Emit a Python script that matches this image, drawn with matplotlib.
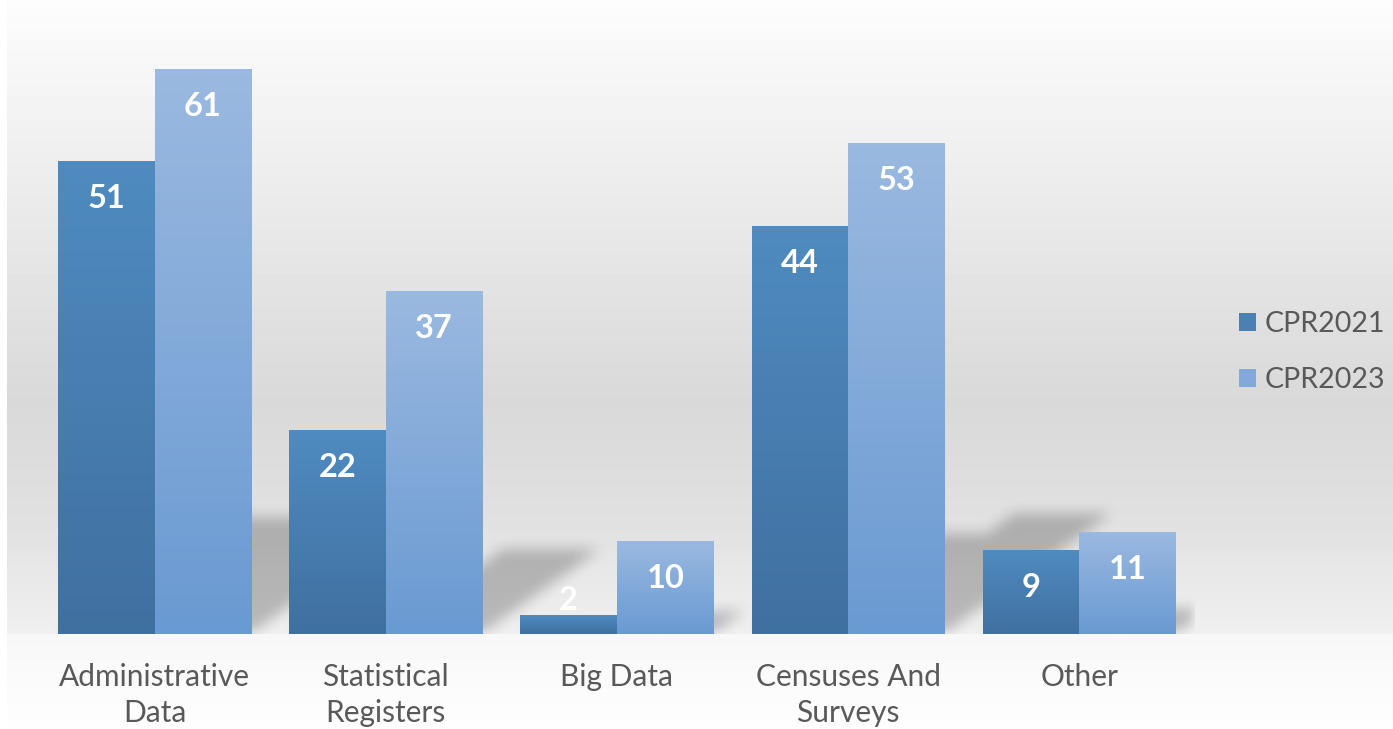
import numpy as np
import matplotlib
matplotlib.use('Agg')
import matplotlib.pyplot as plt
from matplotlib.colors import LinearSegmentedColormap

# data
categories = ['Administrative\nData', 'Statistical\nRegisters', 'Big Data',
              'Censuses And\nSurveys', 'Other']
cpr2021 = [51, 22, 2, 44, 9]
cpr2023 = [61, 37, 10, 53, 11]
series_names = ['CPR2021', 'CPR2023']

dark_top, dark_bot = '#4F8BC0', '#4070A0'
light_top, light_bot = '#9AB9E0', '#6A9AD2'
text_gray = '#595959'

W, H, DPI = 1393, 729, 100
fig = plt.figure(figsize=(W / DPI, H / DPI), dpi=DPI)

# background: soft grey gradient wall, light floor below the baseline
bg = fig.add_axes([0, 0, 1, 1], zorder=-5)
rows = np.arange(H)
shade = np.interp(rows, [0, 30, 400, 520, 633, 634, 729],
                  [0.99, 0.98, 0.85, 0.88, 0.94, 0.97, 0.995])
img = np.repeat(shade[:, None], W, axis=1)
img[:, :7] = 1.0
bg.imshow(img, cmap='gray', vmin=0, vmax=1, aspect='auto',
          extent=[0, W, H, 0], interpolation='bilinear')
bg.axis('off')

# main axes, placed so baseline / bar scale match the reference
px_per_unit = 9.26
ymax = 66
ax_left, ax_right, base_px = 39, 1195, 634
ax = fig.add_axes([ax_left / W, (H - base_px) / H, (ax_right - ax_left) / W,
                   ymax * px_per_unit / H])
ax.patch.set_alpha(0)

x = np.arange(len(categories))
bw = 0.418
b1 = ax.bar(x - bw / 2, cpr2021, bw, color='#4A80B4', label=series_names[0], zorder=3)
b2 = ax.bar(x + bw / 2, cpr2023, bw, color='#82A9DA', label=series_names[1], zorder=3)

# gradient fill on each bar
grad = np.linspace(0, 1, 64)[:, None]
cm_dark = LinearSegmentedColormap.from_list('d', [dark_top, dark_bot])
cm_light = LinearSegmentedColormap.from_list('l', [light_top, light_bot])
for bars, cm in ((b1, cm_dark), (b2, cm_light)):
    for r in bars:
        x0, w, h = r.get_x(), r.get_width(), r.get_height()
        ax.imshow(grad, cmap=cm, aspect='auto', extent=[x0, x0 + w, 0, h],
                  zorder=4, interpolation='bilinear')

# perspective shadows cast up and to the right, rasterised and blurred
unit_x_px = (ax_right - ax_left) / 5.0
skew = 0.34 * px_per_unit / unit_x_px   # x shift per unit of height
squash = 0.245
gx = np.linspace(-0.5, 4.5, 1200)
gy = np.linspace(0, ymax, 620)
GX, GY = np.meshgrid(gx, gy)
mask = np.zeros_like(GX)
for bars in (b1, b2):
    for r in bars:
        x0, w, h = r.get_x(), r.get_width(), r.get_height()
        top = squash * h
        off = GY / squash * skew
        inside = (GY <= top) & (GX >= x0 + off) & (GX <= x0 + w + off)
        mask = np.maximum(mask, inside.astype(float))

def box_blur(a, n, axis):
    k = np.ones(n) / n
    return np.apply_along_axis(lambda m: np.convolve(m, k, mode='same'), axis, a)

for _ in range(3):
    mask = box_blur(mask, 13, 1)
    mask = box_blur(mask, 13, 0)
shadow = np.zeros(mask.shape + (4,))
shadow[..., 3] = 0.23 * mask
ax.imshow(shadow, extent=[-0.5, 4.5, 0, ymax], origin='lower', aspect='auto',
          zorder=2, interpolation='bilinear')

# value labels inside the bar tops
for bars, vals in ((b1, cpr2021), (b2, cpr2023)):
    for r, v in zip(bars, vals):
        ypos = max(v - 4.0, 3.65)
        ax.text(r.get_x() + r.get_width() / 2, ypos, str(v), color='white',
                fontsize=23.5, fontweight='bold', family='Lato',
                ha='center', va='center', zorder=6)

ax.set_xlim(-0.5, 4.5)
ax.set_ylim(0, ymax)
ax.set_xticks(x)
ax.set_xticklabels(categories, fontsize=21.5, color=text_gray, family='Lato',
                   linespacing=1.35)
ax.tick_params(axis='x', length=0, pad=21)
ax.set_yticks([])
for s in ax.spines.values():
    s.set_visible(False)

leg = fig.legend(handles=[b1, b2], labels=series_names, loc='center left',
                 bbox_to_anchor=(1239 / W, 1 - 352 / H), frameon=False,
                 borderpad=0, borderaxespad=0,
                 prop={'family': 'Lato', 'size': 20.5}, labelcolor=text_gray,
                 handlelength=0.6, handleheight=0.6, handletextpad=0.3,
                 labelspacing=1.05)

fig.savefig('out.png', dpi=DPI)
